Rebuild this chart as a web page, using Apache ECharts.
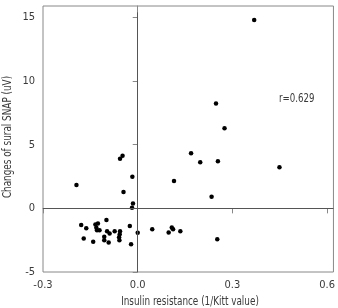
<!DOCTYPE html>
<html>
<head>
<meta charset="utf-8">
<script src="https://cdn.jsdelivr.net/npm/echarts@6/dist/echarts.min.js"></script>
<style>
  html, body { margin: 0; padding: 0; background: #fff; }
  #chart { width: 338px; height: 308px; }
</style>
</head>
<body>
<div id="chart"></div>
<script>
// insulin resistance (1/Kitt) vs change of sural SNAP (uV)
var pointsX = [
  0.369, 0.248, 0.275, 0.169, 0.198, 0.254, 0.449, 0.115, 0.234,
  -0.048, -0.056, -0.017, -0.194, -0.045, -0.015, -0.018,
  -0.179, -0.163, -0.134, -0.126, -0.131, -0.129, -0.121, -0.099, -0.097,
  -0.089, -0.073, -0.056, -0.057, -0.059, -0.058, -0.106, -0.106, -0.171,
  -0.141, -0.092, -0.025, -0.021, 0.0, 0.046, 0.098, 0.108, 0.112, 0.135, 0.252
];
var pointsY = [
  14.8, 8.24, 6.3, 4.33, 3.62, 3.70, 3.23, 2.15, 0.91,
  4.14, 3.9, 2.49, 1.83, 1.28, 0.39, 0.05,
  -1.31, -1.57, -1.26, -1.18, -1.53, -1.71, -1.71, -0.92, -1.79,
  -1.97, -1.79, -1.79, -2.03, -2.26, -2.5, -2.24, -2.5, -2.36,
  -2.63, -2.68, -1.39, -2.81, -1.92, -1.65, -1.89, -1.5, -1.65, -1.79, -2.42
];
var xTicks = [-0.3, 0.0, 0.3, 0.6];
var yTicks = [-5, 0, 5, 10, 15];
var xRange = [-0.3, 0.62];
var yRange = [-5, 15.9];
var vLineTop = 15.4;
var xName = 'Insulin resistance (1/Kitt value)';
var yName = 'Changes of sural SNAP (uV)';
var corrText = 'r=0.629';

var font = "'DejaVu Sans Condensed', 'Liberation Sans Narrow', sans-serif";
var textColor = '#3a3a3a';
var data = [];
for (var i = 0; i < pointsX.length; i++) {
  data.push([pointsX[i], pointsY[i]]);
}

var chart = echarts.init(document.getElementById('chart'));
chart.setOption({
  animation: false,
  grid: {
    left: 43, top: 6, right: 2, bottom: 36,
    show: true, borderColor: '#888', borderWidth: 1
  },
  xAxis: {
    type: 'value',
    min: xRange[0], max: xRange[1],
    axisLine: { show: true, lineStyle: { color: '#888' } },
    axisTick: { show: true, length: 5, customValues: xTicks, lineStyle: { color: '#888' } },
    axisLabel: {
      customValues: xTicks, fontFamily: font, fontSize: 11, color: textColor, margin: 8,
      formatter: function (v) { return v.toFixed(1); }
    },
    splitLine: { show: false }
  },
  yAxis: {
    type: 'value',
    min: yRange[0], max: yRange[1],
    axisLine: { show: true, lineStyle: { color: '#888' } },
    axisTick: { show: true, length: 5, customValues: yTicks, lineStyle: { color: '#888' } },
    axisLabel: { customValues: yTicks, fontFamily: font, fontSize: 11, color: textColor, margin: 8 },
    splitLine: { show: false }
  },
  // condensed titles: squeeze the text horizontally
  graphic: [{
    type: 'text', x: 190, y: 302, scaleX: 0.82,
    style: { text: xName, fontFamily: font, fontSize: 12, fill: textColor, align: 'center', verticalAlign: 'middle' }
  }, {
    type: 'text', x: 8, y: 137, rotation: Math.PI / 2, scaleX: 0.82,
    style: { text: yName, fontFamily: font, fontSize: 12, fill: textColor, align: 'center', verticalAlign: 'middle' }
  }, {
    type: 'text', x: 279, y: 99, scaleX: 0.8,
    style: { text: corrText, fontFamily: font, fontSize: 12, fill: textColor, align: 'left', verticalAlign: 'middle' }
  }],
  series: [{
    type: 'scatter',
    data: data,
    symbolSize: 4.5,
    itemStyle: { color: '#000', opacity: 1 },
    markLine: {
      silent: true,
      symbol: ['none', 'none'],
      label: { show: false },
      lineStyle: { color: '#555', width: 1, type: 'solid', opacity: 1 },
      data: [
        [{ coord: [0, vLineTop] }, { coord: [0, yRange[0]] }],
        [{ coord: [xRange[0], 0] }, { coord: [xRange[1], 0] }]
      ]
    }
  }]
});
</script>
</body>
</html>
